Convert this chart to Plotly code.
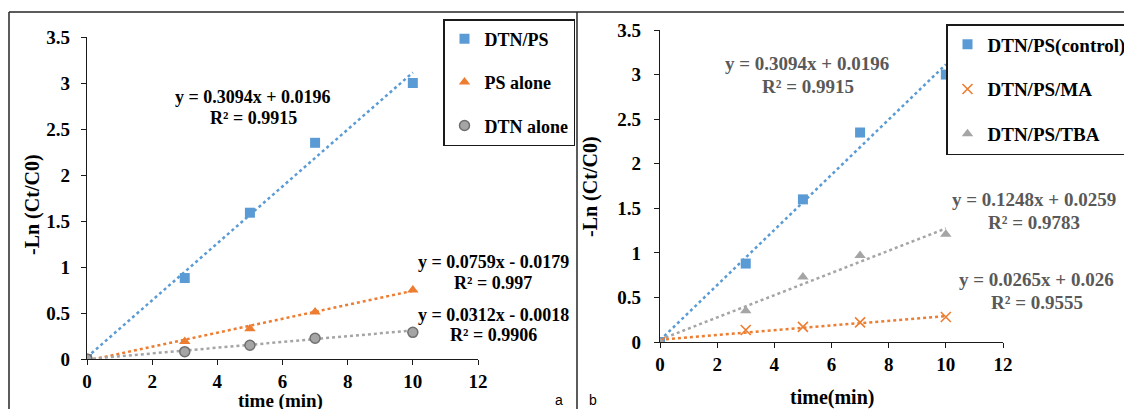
import plotly.graph_objects as go

W, H = 1132, 409
OFF = 8  # page body margin: figure is drawn 8 px right and down

# ---- data ----
time_min = [0, 3, 5, 7, 10]

a_names = ["DTN/PS", "PS alone", "DTN alone"]
a_dtn_ps = [0, 0.88, 1.59, 2.35, 3.0]
a_ps_alone = [0, 0.19, 0.33, 0.51, 0.75]
a_dtn_alone = [0, 0.08, 0.15, 0.225, 0.29]
a_slopes = [0.3094, 0.0759, 0.0312]
a_intercepts = [0.0196, -0.0179, -0.0018]
a_eq_text = ["y = 0.3094x + 0.0196", "y = 0.0759x - 0.0179", "y = 0.0312x - 0.0018"]
a_r2_text = ["R² = 0.9915", "R² = 0.997", "R² = 0.9906"]

b_names = ["DTN/PS(control)", "DTN/PS/MA", "DTN/PS/TBA"]
b_control = [0, 0.88, 1.6, 2.35, 3.0]
b_ma = [0, 0.135, 0.17, 0.22, 0.28]
b_tba = [0, 0.35, 0.73, 0.97, 1.21]
b_slopes = [0.3094, 0.0265, 0.1248]
b_intercepts = [0.0196, 0.026, 0.0259]
b_eq_text = ["y = 0.3094x + 0.0196", "y = 0.0265x + 0.026", "y = 0.1248x + 0.0259"]
b_r2_text = ["R² = 0.9915", "R² = 0.9555", "R² = 0.9783"]

x_ticks = [0, 2, 4, 6, 8, 10, 12]
y_ticks = [0, 0.5, 1, 1.5, 2, 2.5, 3, 3.5]

BLUE = "#5B9BD5"
ORANGE = "#ED7D31"
GRAY = "#A5A5A5"
SERIF = "Liberation Serif"


def px(x):
    return (x - OFF) / W


def py(y):
    return 1 - (y - OFF) / H


fig = go.Figure()

trend_x = [min(time_min), max(time_min)]

# ---- panel a ----
a_series = [a_dtn_ps, a_ps_alone, a_dtn_alone]
a_colors = [BLUE, ORANGE, GRAY]
a_markers = [
    dict(symbol="square", size=10, color=BLUE),
    dict(symbol="triangle-up", size=10, color=ORANGE),
    dict(symbol="circle", size=10, color=GRAY, line=dict(color="#6f6f6f", width=1.5)),
]
for i in range(3):
    fig.add_trace(go.Scatter(
        x=trend_x, y=[a_slopes[i] * t + a_intercepts[i] for t in trend_x],
        mode="lines", line=dict(color=a_colors[i], width=2.5, dash="dot"),
        showlegend=False, hoverinfo="skip", legend="legend", legendgroup="a%d" % i,
        xaxis="x", yaxis="y"))
for i in range(3):
    fig.add_trace(go.Scatter(
        x=time_min, y=a_series[i], mode="markers", name=a_names[i],
        marker=a_markers[i], legend="legend", legendgroup="a%d" % i,
        xaxis="x", yaxis="y"))

# ---- panel b ----
b_series = [b_control, b_ma, b_tba]
b_colors = [BLUE, ORANGE, GRAY]
b_markers = [
    dict(symbol="square", size=10, color=BLUE),
    dict(symbol="x-thin", size=10, color=ORANGE, line=dict(color=ORANGE, width=1.6)),
    dict(symbol="triangle-up", size=10, color=GRAY),
]
for i in range(3):
    fig.add_trace(go.Scatter(
        x=trend_x, y=[b_slopes[i] * t + b_intercepts[i] for t in trend_x],
        mode="lines", line=dict(color=b_colors[i], width=2.5, dash="dot"),
        showlegend=False, hoverinfo="skip", legend="legend2", legendgroup="b%d" % i,
        xaxis="x2", yaxis="y2"))
for i in range(3):
    fig.add_trace(go.Scatter(
        x=time_min, y=b_series[i], mode="markers", name=b_names[i],
        marker=b_markers[i], legend="legend2", legendgroup="b%d" % i,
        xaxis="x2", yaxis="y2"))

axis_common = dict(
    showgrid=False, zeroline=False, showline=True, linecolor="#1a1a1a", linewidth=1.3,
    ticks="outside", ticklen=5, tickcolor="#1a1a1a", tickwidth=1.3, automargin=False,
    tickfont=dict(family=SERIF, size=19, color="black", weight="bold"),
)

fig.update_layout(
    width=W, height=H, margin=dict(l=0, r=0, t=0, b=0, autoexpand=False),
    paper_bgcolor="white", plot_bgcolor="white",
    xaxis=dict(domain=[px(87), px(478)], range=[0, 12], tickvals=x_ticks,
               anchor="y", **axis_common),
    yaxis=dict(domain=[py(359), py(37)], range=[0, 3.5], tickvals=y_ticks,
               anchor="x", ticklabelstandoff=7, **axis_common),
    xaxis2=dict(domain=[px(660), px(1003)], range=[0, 12], tickvals=x_ticks,
                anchor="y2", **axis_common),
    yaxis2=dict(domain=[py(342), py(30)], range=[0, 3.5], tickvals=y_ticks,
                anchor="x2", ticklabelstandoff=9, **axis_common),
    legend=dict(x=px(443), y=py(19), xanchor="left", yanchor="top",
                bgcolor="white", bordercolor="#1a1a1a", borderwidth=1.5,
                font=dict(family=SERIF, size=18, color="black", weight="bold"),
                traceorder="grouped", tracegroupgap=17, itemwidth=30),
    legend2=dict(x=px(946), y=py(24), xanchor="left", yanchor="top",
                 bgcolor="white", bordercolor="#1a1a1a", borderwidth=1.5,
                 font=dict(family=SERIF, size=19, color="black", weight="bold"),
                 traceorder="grouped", tracegroupgap=17, itemwidth=30),
    showlegend=True,
)

annotations = []


def add_text(text, x, y, size, color="black", anchor="center", angle=0, family=SERIF, bold=True):
    annotations.append(dict(
        text=("<b>%s</b>" % text) if bold else text,
        x=px(x), y=py(y), xref="paper", yref="paper",
        xanchor=anchor, yanchor="middle", showarrow=False, textangle=angle,
        font=dict(family=family, size=size, color=color)))


# equations panel a
add_text(a_eq_text[0], 253, 97, 18)
add_text(a_r2_text[0], 253, 118, 18)
add_text(a_eq_text[1], 416, 262, 18, anchor="left")
add_text(a_r2_text[1], 493, 283, 18)
add_text(a_eq_text[2], 416, 315, 18, anchor="left")
add_text(a_r2_text[2], 493, 335, 18)

# equations panel b
EQ_B = "#595959"
add_text(b_eq_text[0], 807, 63, 19, EQ_B)
add_text(b_r2_text[0], 808, 86, 19, EQ_B)
add_text(b_eq_text[2], 1034, 199, 19, EQ_B)
add_text(b_r2_text[2], 1034, 222, 19, EQ_B)
add_text(b_eq_text[1], 1036, 279, 19, EQ_B)
add_text(b_r2_text[1], 1037, 302, 19, EQ_B)

# axis titles
add_text("time (min)", 280, 401, 19)
add_text("-Ln (Ct/C0)", 32, 205, 20, angle=-90)
add_text("time(min)", 832, 397, 20)
add_text("-Ln (Ct/C0)", 591, 187, 20, angle=-90)

# panel labels
add_text("a", 559, 400, 14, family="Liberation Sans", bold=False)
add_text("b", 593, 400, 14, family="Liberation Sans", bold=False)

fig.update_layout(annotations=annotations)

# frame lines
frame = dict(color="#262626", width=1.5)
fig.update_layout(shapes=[
    dict(type="line", xref="paper", yref="paper", x0=px(9), x1=1, y0=py(12), y1=py(12), line=frame),
    dict(type="line", xref="paper", yref="paper", x0=px(9), x1=px(9), y0=py(12), y1=0, line=frame),
    dict(type="line", xref="paper", yref="paper", x0=px(577), x1=px(577), y0=py(12), y1=0, line=frame),
])

fig.write_html("out.html")
